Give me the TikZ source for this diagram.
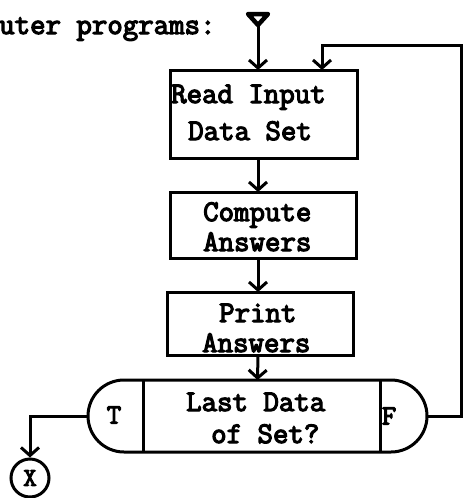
\documentclass[tikz,border=0pt]{standalone}
\usepackage{fontspec}
\setmonofont{Latin Modern Mono}[FakeBold=4]
\usetikzlibrary{arrows.meta,shapes.misc,calc}
\begin{document}
\begin{tikzpicture}[x=1pt,y=-1pt,
  box/.style={draw,line width=3pt,inner sep=0pt,outer sep=0pt},
  txt/.style={font=\ttfamily\bfseries\fontsize{30}{34}\selectfont,anchor=base west,inner sep=0pt},
  small/.style={font=\ttfamily\bfseries\fontsize{28}{30}\selectfont,inner sep=0pt},
  arr/.style={line width=3pt,-{Straight Barb[length=8pt,width=18pt]}},
  line/.style={line width=3pt}]
\useasboundingbox (0,0) rectangle (466,498);
% heading text
\node[txt] (head) at (-1,34) {uter programs:};
% start symbol
\draw[line width=4.5pt,line join=round] (248,14) -- (268,14) -- (258,25) -- cycle;
\coordinate (start) at (258,25);
% boxes
\node[box,minimum width=187pt,minimum height=88pt] (read) at (263.5,114) {};
\node[box,minimum width=186pt,minimum height=66pt] (comp) at (263,225) {};
\node[box,minimum width=186pt,minimum height=63pt] (print) at (260,323.5) {};
\node[box,rounded rectangle,minimum width=339pt,minimum height=72pt] (dec) at (257.5,416) {};
\draw[line] (143,380) -- (143,452);
\draw[line] (380,380) -- (380,452);
% texts
\node[txt] (t1) at (171,103) {Read Input};
\node[txt] (t2) at (188,140) {Data Set};
\node[txt] (t3) at (203,221) {Compute};
\node[txt] (t4) at (203,251) {Answers};
\node[txt] (t5) at (219,322) {Print};
\node[txt] (t6) at (202,352) {Answers};
\node[txt] (t7) at (186,411) {Last Data};
\node[txt] (t8) at (211,443) {of Set?};
\node[small] (tT) at (114,415) {T};
\node[small] (tF) at (389,416) {F};
% exit connector
\node[draw,circle,line width=3pt,minimum size=38pt,inner sep=0pt,font=\ttfamily\bfseries\fontsize{26}{28}\selectfont] (exit) at (30,478) {X};
% connectors
\draw[arr] (start) -- (start |- read.north);
\draw[arr] ([xshift=-5.5pt]read.south) -- ([xshift=-5pt]comp.north);
\draw[arr] ([xshift=-5pt]comp.south) -- ([xshift=-2pt]print.north);
\draw[arr] ([xshift=-2pt]print.south) -- (dec.north);
\draw[arr] (dec.west) -| (exit.north);
\coordinate (loop) at (461,45);
\draw[arr] (dec.east) -| (loop) -| ([xshift=58.5pt]read.north);
\end{tikzpicture}
\end{document}
